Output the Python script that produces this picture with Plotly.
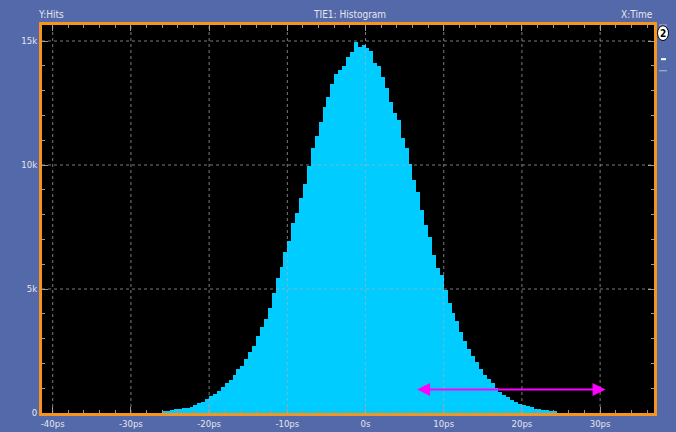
import plotly.graph_objects as go

# ---- data ----
bin_start_ps = -26.0
bin_width_ps = 0.5
hits = [60, 90, 110, 150, 170, 200, 220, 250, 330, 390,
        460, 560, 680, 780, 880, 1050, 1200, 1350, 1530, 1760,
        1900, 2180, 2450, 2700, 3100, 3450, 3800, 4250, 4850, 5450,
        5900, 6500, 6950, 7650, 8050, 8650, 9250, 9950, 10700, 11150,
        11750, 12350, 12750, 13250, 13650, 13850, 14000, 14350, 14550, 14950,
        14750, 14850, 14700, 14600, 14130, 14000, 13550, 13100, 12550, 12100,
        11800, 11100, 10680, 10050, 9400, 8900, 8200, 7600, 7100, 6380,
        5850, 5550, 4950, 4450, 4050, 3700, 3250, 2900, 2600, 2300,
        2050, 1780, 1550, 1360, 1200, 1020, 850, 740, 640, 530,
        450, 380, 330, 270, 230, 180, 160, 140, 120, 90, 60]

x_tick_vals = [-40, -30, -20, -10, 0, 10, 20, 30]
x_tick_text = ["-40ps", "-30ps", "-20ps", "-10ps", "0s", "10ps", "20ps", "30ps"]
y_tick_vals = [0, 5000, 10000, 15000]
y_tick_text = ["0", "5k", "10k", "15k"]

cursor_ps = [6.4, 30.7]
cursor_hits = 950

x_range = [-41.37, 36.89]
y_range = [0, 15645]

# ---- styles ----
BG = "#5369A9"
CYAN = "#00CCFF"
ORANGE = "#F7941D"
TXT = "#E6E6EE"
FONT = "Liberation Sans Narrow, DejaVu Sans Condensed, Arial Narrow, sans-serif"
GRID = "rgba(175,175,175,0.7)"

centers = [bin_start_ps + bin_width_ps * (i + 0.5) for i in range(len(hits))]

fig = go.Figure()
fig.add_trace(go.Bar(x=centers, y=hits, width=bin_width_ps,
                     marker=dict(color=CYAN, line=dict(width=0)),
                     hoverinfo="skip"))

shapes = []
for v in x_tick_vals:
    shapes.append(dict(type="line", xref="x", yref="paper", x0=v, x1=v, y0=0, y1=1,
                       line=dict(color=GRID, width=1, dash="dot"), layer="above"))
for v in y_tick_vals[1:]:
    shapes.append(dict(type="line", xref="paper", yref="y", x0=0, x1=1, y0=v, y1=v,
                       line=dict(color=GRID, width=1, dash="dot"), layer="above"))

# right-side reference markers
shapes.append(dict(type="line", xref="paper", yref="paper", x0=1.0082, x1=1.0212,
                   y0=1.0, y1=1.0, line=dict(color="#B8BCD0", width=1)))
shapes.append(dict(type="line", xref="paper", yref="paper", x0=1.0082, x1=1.0212,
                   y0=0.882, y1=0.882, line=dict(color="#B8BCD0", width=1)))
shapes.append(dict(type="line", xref="paper", yref="paper", x0=1.0114, x1=1.0196,
                   y0=0.912, y1=0.912, line=dict(color="#FFFFFF", width=2)))
shapes.append(dict(type="circle", xref="paper", yref="paper", x0=1.0057, x1=1.0237,
                   y0=0.960, y1=0.998, fillcolor="#FFFFFF", line=dict(color="#000000", width=1)))

annotations = [
    dict(text="Y:Hits", x=0.0155, y=1.026, xref="paper", yref="paper",
         showarrow=False, font=dict(family=FONT, size=10, color=TXT), xanchor="center", yanchor="middle"),
    dict(text="TIE1: Histogram", x=0.503, y=1.026, xref="paper", yref="paper",
         showarrow=False, font=dict(family=FONT, size=10, color=TXT), xanchor="center", yanchor="middle"),
    dict(text="X:Time", x=1.002, y=1.026, xref="paper", yref="paper",
         showarrow=False, font=dict(family=FONT, size=10, color=TXT), xanchor="right", yanchor="middle"),
    dict(text="<b>2</b>", x=1.0147, y=0.979, xref="paper", yref="paper",
         showarrow=False, font=dict(family=FONT, size=10, color="#000000"),
         xanchor="center", yanchor="middle"),
    dict(text="", x=cursor_ps[1], y=cursor_hits, ax=cursor_ps[0], ay=cursor_hits,
         xref="x", yref="y", axref="x", ayref="y", showarrow=True,
         arrowside="end+start", arrowhead=2, arrowsize=1.3, arrowwidth=2,
         arrowcolor="#FF00FF", standoff=0, startstandoff=0),
]

fig.update_layout(
    width=676, height=432, autosize=False,
    margin=dict(l=42, r=22, t=25, b=19, pad=0, autoexpand=False),
    paper_bgcolor=BG, plot_bgcolor="#000000",
    bargap=0, showlegend=False,
    shapes=shapes, annotations=annotations,
    xaxis=dict(range=x_range, tickmode="array", tickvals=x_tick_vals, ticktext=x_tick_text,
               showgrid=False, zeroline=False, automargin=False,
               showline=True, linecolor=ORANGE, linewidth=3, mirror="ticks",
               ticks="inside", ticklen=6, tickcolor="#9A9A9A", tickwidth=1,
               minor=dict(ticks="inside", ticklen=3, tickcolor="#9A9A9A", dtick=2, tick0=0),
               tickfont=dict(family=FONT, size=9.5, color=TXT)),
    yaxis=dict(range=y_range, tickmode="array", tickvals=y_tick_vals, ticktext=y_tick_text,
               showgrid=False, zeroline=False, automargin=False,
               showline=True, linecolor=ORANGE, linewidth=3, mirror="ticks",
               ticks="inside", ticklen=6, tickcolor="#9A9A9A", tickwidth=1,
               minor=dict(ticks="inside", ticklen=3, tickcolor="#9A9A9A", dtick=1000, tick0=0),
               tickfont=dict(family=FONT, size=9.5, color=TXT)),
)

fig.write_html("out.html", config={"displayModeBar": False, "responsive": False})

# remove the default page margin so the figure sits at the window's top-left corner
with open("out.html", "r", encoding="utf-8") as f:
    html = f.read()
html = html.replace("<body>", '<body style="margin:0;padding:0;overflow:hidden;">', 1)
with open("out.html", "w", encoding="utf-8") as f:
    f.write(html)
